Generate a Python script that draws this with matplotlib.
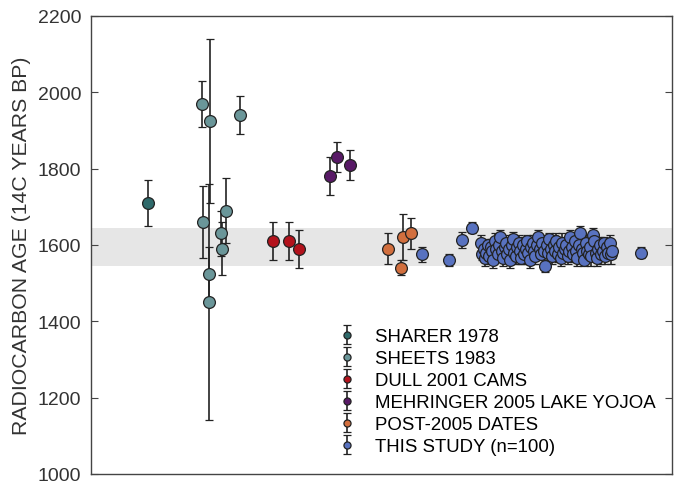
import matplotlib
matplotlib.use("Agg")
import matplotlib.pyplot as plt

plt.rcParams["font.family"] = ["Liberation Sans", "DejaVu Sans"]

# sample positions along the x axis (plot order) and ages in 14C years BP
sharer_x = [57]
sharer_age = [1710]
sharer_err = [60]

sheets_x = [111, 119, 112, 118, 135, 130, 131, 149, 118]
sheets_age = [1970, 1925, 1660, 1450, 1690, 1630, 1590, 1940, 1525]
sheets_err = [60, 215, 95, 310, 85, 60, 70, 50, 70]

dull_x = [182, 198, 208]
dull_age = [1610, 1610, 1590]
dull_err = [50, 50, 50]

mehringer_x = [239, 246, 259]
mehringer_age = [1780, 1830, 1810]
mehringer_err = [50, 40, 40]

post_x = [297, 312, 310, 320]
post_age = [1590, 1620, 1540, 1630]
post_err = [40, 60, 20, 40]

study_x = [331, 358, 371, 381,
           390, 391, 393, 394, 395, 397, 398, 400, 401, 402,
           404, 405, 407, 408, 409, 411, 412, 414, 415, 416,
           418, 419, 421, 422, 423, 425, 426, 428, 429, 430,
           432, 433, 435, 436, 437, 439, 440, 442, 443, 444,
           446, 447, 449, 450, 451, 453, 454, 456, 457, 458,
           460, 461, 463, 464, 465, 467, 468, 470, 471, 472,
           474, 475, 477, 478, 479, 481, 482, 484, 485, 486,
           488, 489, 491, 492, 493, 495, 496, 498, 499, 500,
           502, 503, 505, 506, 507, 509, 510, 512, 513, 514,
           516, 517, 519, 520, 521,
           550]
study_age = [1575, 1560, 1613, 1645,
             1605, 1575, 1590, 1565, 1580, 1600, 1570, 1595, 1585, 1560,
             1610, 1590, 1575, 1600, 1620, 1585, 1565, 1595, 1605, 1575,
             1590, 1560, 1600, 1615, 1580, 1570, 1595, 1605, 1585, 1565,
             1600, 1575, 1590, 1610, 1580, 1560, 1595, 1605, 1585, 1570,
             1600, 1620, 1590, 1575, 1605, 1585, 1545, 1600, 1580, 1615,
             1590, 1570, 1600, 1585, 1610, 1575, 1595, 1565, 1605, 1580,
             1590, 1600, 1570, 1585, 1620, 1595, 1575, 1610, 1585, 1565,
             1600, 1630, 1590, 1580, 1560, 1605, 1585, 1575, 1595, 1570,
             1625, 1610, 1580, 1565, 1590, 1600, 1575, 1585, 1605, 1570,
             1595, 1580, 1605, 1575, 1585,
             1580]
study_err = [20, 15, 20, 15,
             20, 15, 20, 20, 25, 15, 20, 20, 15, 20,
             20, 25, 15, 20, 20, 15, 20, 25, 20, 15,
             20, 20, 15, 20, 25, 20, 15, 20, 20, 15,
             20, 25, 20, 15, 20, 20, 15, 20, 25, 20,
             15, 20, 20, 15, 20, 25, 15, 20, 20, 15,
             20, 20, 25, 15, 20, 20, 15, 20, 25, 20,
             15, 20, 20, 15, 20, 25, 20, 15, 20, 20,
             15, 20, 25, 20, 15, 20, 20, 15, 20, 25,
             20, 15, 20, 20, 15, 20, 25, 20, 15, 20,
             20, 15, 20, 25, 20,
             15]

band_low, band_high = 1545, 1645

groups = [
    ("SHARER 1978", sharer_x, sharer_age, sharer_err, "#2f6a6b"),
    ("SHEETS 1983", sheets_x, sheets_age, sheets_err, "#6a9699"),
    ("DULL 2001 CAMS", dull_x, dull_age, dull_err, "#b3121c"),
    ("MEHRINGER 2005 LAKE YOJOA", mehringer_x, mehringer_age, mehringer_err, "#581966"),
    ("POST-2005 DATES", post_x, post_age, post_err, "#d26f3e"),
    ("THIS STUDY (n=100)", study_x, study_age, study_err, "#5872c0"),
]

fig = plt.figure(figsize=(6.78, 4.85), dpi=100)
ax = fig.add_axes([0.134, 0.021, 0.857, 0.944])

ax.axhspan(band_low, band_high, color="#e6e6e6", zorder=0, lw=0)

for label, xs, ages, errs, color in groups:
    ax.errorbar(xs, ages, yerr=errs, fmt="o", ms=8.5, mfc=color, mec="#222222",
                mew=0.9, ecolor="#222222", elinewidth=1.2, capsize=3.2,
                capthick=1.2, label=label, zorder=3)

ax.set_xlim(0, 581)
ax.set_ylim(1000, 2200)
ax.set_yticks([1000, 1200, 1400, 1600, 1800, 2000, 2200])
ax.set_xticks([])
ax.tick_params(axis="y", direction="in", right=True, length=5,
               labelsize=14, colors="#444444", labelcolor="#333333", pad=7)
for s in ax.spines.values():
    s.set_color("#444444")
    s.set_linewidth(1)
ax.set_ylabel("RADIOCARBON AGE (14C YEARS BP)", fontsize=15.3, color="#333333",
              labelpad=5)

ax.legend(loc="lower right", bbox_to_anchor=(0.995, 0.012), frameon=False,
          fontsize=13.4, handlelength=0.6, handletextpad=1.2, markerscale=0.6,
          labelspacing=0.27, borderaxespad=0.3)

fig.savefig("out.png", dpi=100)
